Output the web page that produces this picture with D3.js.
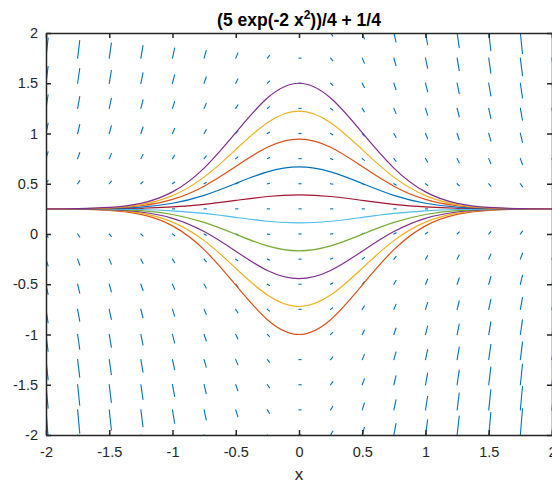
<!DOCTYPE html>
<html>
<head>
<meta charset="utf-8">
<script src="https://cdn.jsdelivr.net/npm/d3@7"></script>
<style>
  body { margin: 0; background: #fff; }
  svg { font-family: "Liberation Sans", Arial, sans-serif; }
  .axis text { fill: #262626; font-size: 14.5px; }
  .axis path, .axis line { stroke: #262626; stroke-width: 1.5; }
</style>
</head>
<body>
<svg width="552" height="483"></svg>
<script>
// grid of the slope field (x across, y down the rows)
var xGrid = [-2, -1.75, -1.5, -1.25, -1, -0.75, -0.5, -0.25, 0, 0.25, 0.5, 0.75, 1, 1.25, 1.5, 1.75, 2];
var yGrid = [2, 1.75, 1.5, 1.25, 1, 0.75, 0.5, 0.25, 0, -0.25, -0.5, -0.75, -1, -1.25, -1.5, -1.75, -2];

// dy/dx at each grid point, one row per yGrid value
var slopes = [
  [14, 12.25, 10.5, 8.75, 7, 5.25, 3.5, 1.75, 0, -1.75, -3.5, -5.25, -7, -8.75, -10.5, -12.25, -14],
  [12, 10.5, 9, 7.5, 6, 4.5, 3, 1.5, 0, -1.5, -3, -4.5, -6, -7.5, -9, -10.5, -12],
  [10, 8.75, 7.5, 6.25, 5, 3.75, 2.5, 1.25, 0, -1.25, -2.5, -3.75, -5, -6.25, -7.5, -8.75, -10],
  [8, 7, 6, 5, 4, 3, 2, 1, 0, -1, -2, -3, -4, -5, -6, -7, -8],
  [6, 5.25, 4.5, 3.75, 3, 2.25, 1.5, 0.75, 0, -0.75, -1.5, -2.25, -3, -3.75, -4.5, -5.25, -6],
  [4, 3.5, 3, 2.5, 2, 1.5, 1, 0.5, 0, -0.5, -1, -1.5, -2, -2.5, -3, -3.5, -4],
  [2, 1.75, 1.5, 1.25, 1, 0.75, 0.5, 0.25, 0, -0.25, -0.5, -0.75, -1, -1.25, -1.5, -1.75, -2],
  [0, 0, 0, 0, 0, 0, 0, 0, 0, 0, 0, 0, 0, 0, 0, 0, 0],
  [-2, -1.75, -1.5, -1.25, -1, -0.75, -0.5, -0.25, 0, 0.25, 0.5, 0.75, 1, 1.25, 1.5, 1.75, 2],
  [-4, -3.5, -3, -2.5, -2, -1.5, -1, -0.5, 0, 0.5, 1, 1.5, 2, 2.5, 3, 3.5, 4],
  [-6, -5.25, -4.5, -3.75, -3, -2.25, -1.5, -0.75, 0, 0.75, 1.5, 2.25, 3, 3.75, 4.5, 5.25, 6],
  [-8, -7, -6, -5, -4, -3, -2, -1, 0, 1, 2, 3, 4, 5, 6, 7, 8],
  [-10, -8.75, -7.5, -6.25, -5, -3.75, -2.5, -1.25, 0, 1.25, 2.5, 3.75, 5, 6.25, 7.5, 8.75, 10],
  [-12, -10.5, -9, -7.5, -6, -4.5, -3, -1.5, 0, 1.5, 3, 4.5, 6, 7.5, 9, 10.5, 12],
  [-14, -12.25, -10.5, -8.75, -7, -5.25, -3.5, -1.75, 0, 1.75, 3.5, 5.25, 7, 8.75, 10.5, 12.25, 14],
  [-16, -14, -12, -10, -8, -6, -4, -2, 0, 2, 4, 6, 8, 10, 12, 14, 16],
  [-18, -15.75, -13.5, -11.25, -9, -6.75, -4.5, -2.25, 0, 2.25, 4.5, 6.75, 9, 11.25, 13.5, 15.75, 18]
];

// solution curves, sampled at xGrid (bottom curve first, in plotting order)
var curveX = xGrid;
var curve1 = [0.250, 0.247, 0.236, 0.195, 0.081, -0.156, -0.508, -0.853, -1.0, -0.853, -0.508, -0.156, 0.081, 0.195, 0.236, 0.247, 0.250];
var curve2 = [0.250, 0.248, 0.239, 0.207, 0.118, -0.066, -0.340, -0.608, -0.722, -0.608, -0.340, -0.066, 0.118, 0.207, 0.239, 0.248, 0.250];
var curve3 = [0.250, 0.248, 0.242, 0.219, 0.156, 0.024, -0.171, -0.363, -0.444, -0.363, -0.171, 0.024, 0.156, 0.219, 0.242, 0.248, 0.250];
var curve4 = [0.250, 0.249, 0.245, 0.232, 0.194, 0.115, -0.003, -0.118, -0.167, -0.118, -0.003, 0.115, 0.194, 0.232, 0.245, 0.249, 0.250];
var curve5 = [0.250, 0.250, 0.248, 0.244, 0.231, 0.205, 0.166, 0.127, 0.111, 0.127, 0.166, 0.205, 0.231, 0.244, 0.248, 0.250, 0.250];
var curve6 = [0.250, 0.250, 0.252, 0.256, 0.269, 0.295, 0.334, 0.373, 0.389, 0.373, 0.334, 0.295, 0.269, 0.256, 0.252, 0.250, 0.250];
var curve7 = [0.250, 0.251, 0.255, 0.268, 0.306, 0.385, 0.503, 0.618, 0.667, 0.618, 0.503, 0.385, 0.306, 0.268, 0.255, 0.251, 0.250];
var curve8 = [0.250, 0.252, 0.258, 0.281, 0.344, 0.476, 0.671, 0.863, 0.944, 0.863, 0.671, 0.476, 0.344, 0.281, 0.258, 0.252, 0.250];
var curve9 = [0.250, 0.252, 0.261, 0.293, 0.382, 0.566, 0.840, 1.108, 1.222, 1.108, 0.840, 0.566, 0.382, 0.293, 0.261, 0.252, 0.250];
var curve10 = [0.250, 0.253, 0.264, 0.305, 0.419, 0.656, 1.008, 1.353, 1.5, 1.353, 1.008, 0.656, 0.419, 0.305, 0.264, 0.253, 0.250];
var curves = [curve1, curve2, curve3, curve4, curve5, curve6, curve7, curve8, curve9, curve10];

var xTicks = [-2, -1.5, -1, -0.5, 0, 0.5, 1, 1.5, 2];
var yTicks = [-2, -1.5, -1, -0.5, 0, 0.5, 1, 1.5, 2];

// matlab default colour order, quiver took the first one
var fieldColor = "#0072BD";
var curveColors = ["#D95319", "#EDB120", "#7E2F8E", "#77AC30", "#4DBEEE", "#A2142F", "#0072BD", "#D95319", "#EDB120", "#7E2F8E"];
var arrowScale = 0.0166; // quiver autoscale factor

var svg = d3.select("svg"),
  margin = { top: 33, right: 0, bottom: 48, left: 46 },
  width = +svg.attr("width") - margin.left - margin.right,
  height = +svg.attr("height") - margin.top - margin.bottom,
  g = svg.append("g").attr("transform", "translate(" + margin.left + "," + margin.top + ")");

var x = d3.scaleLinear().domain([-2, 2]).range([0, width]);
var y = d3.scaleLinear().domain([-2, 2]).range([height, 0]);

g.append("clipPath").attr("id", "plotclip")
  .append("rect").attr("width", width).attr("height", height);

var plot = g.append("g").attr("clip-path", "url(#plotclip)");

// slope field: segment from each grid point along (1, slope)
var field = [];
yGrid.forEach(function(yv, i) {
  xGrid.forEach(function(xv, j) {
    field.push({ x: xv, y: yv, s: slopes[i][j] });
  });
});

plot.selectAll(".arrow")
  .data(field)
  .enter()
  .append("line")
  .attr("class", "arrow")
  .attr("x1", function(d) { return x(d.x); })
  .attr("y1", function(d) { return y(d.y); })
  .attr("x2", function(d) { return x(d.x + arrowScale); })
  .attr("y2", function(d) { return y(d.y + arrowScale * d.s); })
  .attr("stroke", fieldColor)
  .attr("stroke-width", 1.1)
  .attr("stroke-linecap", "square");

var line = d3.line()
  .x(function(d, i) { return x(curveX[i]); })
  .y(function(d) { return y(d); })
  .curve(d3.curveNatural);

plot.selectAll(".sol")
  .data(curves)
  .enter()
  .append("path")
  .attr("class", "sol")
  .attr("d", line)
  .attr("fill", "none")
  .attr("stroke", function(d, i) { return curveColors[i]; })
  .attr("stroke-width", 1.2);

// axes, ticks point inwards on all four sides
var fmt = function(d) { return String(d); };
g.append("g").attr("class", "axis")
  .attr("transform", "translate(0," + height + ")")
  .call(d3.axisBottom(x).tickValues(xTicks).tickFormat(fmt).tickSizeInner(-5).tickSizeOuter(0).tickPadding(12));
g.append("g").attr("class", "axis")
  .call(d3.axisTop(x).tickValues(xTicks).tickFormat("").tickSizeInner(-5).tickSizeOuter(0));
g.append("g").attr("class", "axis")
  .call(d3.axisLeft(y).tickValues(yTicks).tickFormat(fmt).tickSizeInner(-5).tickSizeOuter(0).tickPadding(8));
g.append("g").attr("class", "axis")
  .attr("transform", "translate(" + width + ",0)")
  .call(d3.axisRight(y).tickValues(yTicks).tickFormat("").tickSizeInner(-5).tickSizeOuter(0));
g.selectAll(".axis text").attr("font-family", null).attr("font-size", null);

// x label
svg.append("text")
  .attr("x", margin.left + width / 2)
  .attr("y", 480)
  .attr("text-anchor", "middle")
  .attr("fill", "#262626")
  .style("font-size", "17px")
  .text("x");

// title with superscript
var title = svg.append("text")
  .attr("x", margin.left + width / 2)
  .attr("y", 26)
  .attr("text-anchor", "middle")
  .attr("fill", "#000")
  .style("font-size", "17.5px")
  .style("font-weight", "bold");
title.append("tspan").text("(5 exp(-2 x");
title.append("tspan").attr("dy", -7).style("font-size", "12px").text("2");
title.append("tspan").attr("dy", 7).text("))/4 + 1/4");
</script>
</body>
</html>
